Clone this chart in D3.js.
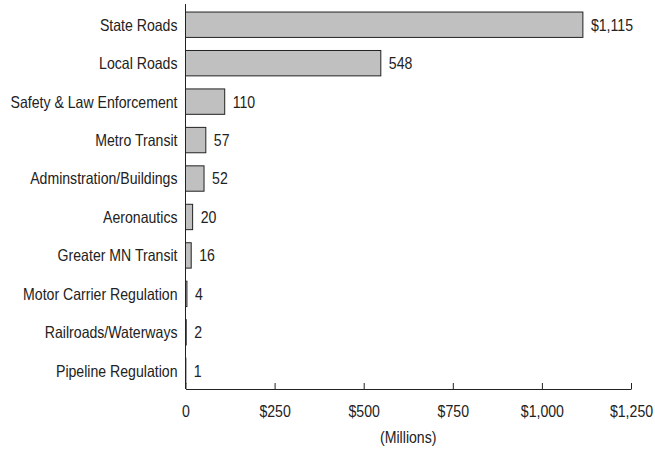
<!DOCTYPE html>
<html>
<head>
<meta charset="utf-8">
<script src="https://cdn.jsdelivr.net/npm/d3@7"></script>
<style>
  body { margin: 0; background: #fff; }
  text { font-family: "Liberation Sans", Arial, sans-serif; fill: #222; }
</style>
</head>
<body>
<script>
const categories = ["State Roads", "Local Roads", "Safety & Law Enforcement", "Metro Transit",
  "Adminstration/Buildings", "Aeronautics", "Greater MN Transit", "Motor Carrier Regulation",
  "Railroads/Waterways", "Pipeline Regulation"]
const values = [1115, 548, 110, 57, 52, 20, 16, 4, 2, 1]
const valueLabels = ["$1,115", "548", "110", "57", "52", "20", "16", "4", "2", "1"]
const xTicks = [0, 250, 500, 750, 1000, 1250]
const xTickLabels = ["0", "$250", "$500", "$750", "$1,000", "$1,250"]

const width = 655, height = 451
const margin = {left: 185.5, right: 24, top: 5.5, bottom: 61}
const fontSize = 16.5
const narrow = 0.855   // squeeze to look like a narrow font

const svg = d3.select("body").append("svg")
    .attr("width", width)
    .attr("height", height)

const x = d3.scaleLinear()
    .domain([0, 1250])
    .range([margin.left, width - margin.right])

const y = d3.scaleBand()
    .domain(categories)
    .range([margin.top, height - margin.bottom])
    .paddingInner(0.34)
    .paddingOuter(0.17)

// bars
svg.selectAll("rect.bar")
    .data(categories)
    .enter()
    .append("rect")
    .attr("class", "bar")
    .attr("x", x(0))
    .attr("y", d => y(d))
    .attr("width", (d, i) => x(values[i]) - x(0))
    .attr("height", y.bandwidth())
    .attr("fill", "#c0c0c0")
    .attr("stroke", "#222")
    .attr("stroke-width", 1)

// value labels
svg.selectAll("text.val")
    .data(categories)
    .enter()
    .append("text")
    .attr("class", "val")
    .attr("transform", (d, i) => `translate(${x(values[i]) + 8},${y(d) + y.bandwidth() / 2}) scale(${narrow},1)`)
    .attr("dy", "0.36em")
    .attr("font-size", fontSize)
    .text((d, i) => valueLabels[i])

// category labels
svg.selectAll("text.cat")
    .data(categories)
    .enter()
    .append("text")
    .attr("class", "cat")
    .attr("transform", d => `translate(${x(0) - 8},${y(d) + y.bandwidth() / 2}) scale(${narrow},1)`)
    .attr("dy", "0.36em")
    .attr("text-anchor", "end")
    .attr("font-size", fontSize)
    .text(d => d)

// y axis line
const yBase = height - margin.bottom - 1
svg.append("line")
    .attr("x1", x(0)).attr("x2", x(0))
    .attr("y1", 4).attr("y2", yBase)
    .attr("stroke", "#222")

// x axis
const xAxis = svg.append("g")
    .attr("transform", `translate(0,${yBase})`)
    .call(d3.axisBottom(x).tickValues(xTicks).tickSizeInner(-6).tickSizeOuter(0)
        .tickFormat((d, i) => xTickLabels[i]).tickPadding(16))
xAxis.select(".domain").attr("stroke", "#222")
xAxis.selectAll(".tick line").attr("stroke", "#222")
xAxis.selectAll(".tick text")
    .attr("font-size", fontSize)
    .attr("font-family", "Liberation Sans, Arial, sans-serif")
    .attr("fill", "#222")
    .attr("transform", `scale(${narrow},1)`)

svg.append("text")
    .attr("transform", `translate(${x(625)},443) scale(${narrow},1)`)
    .attr("text-anchor", "middle")
    .attr("font-size", fontSize)
    .text("(Millions)")
</script>
</body>
</html>
